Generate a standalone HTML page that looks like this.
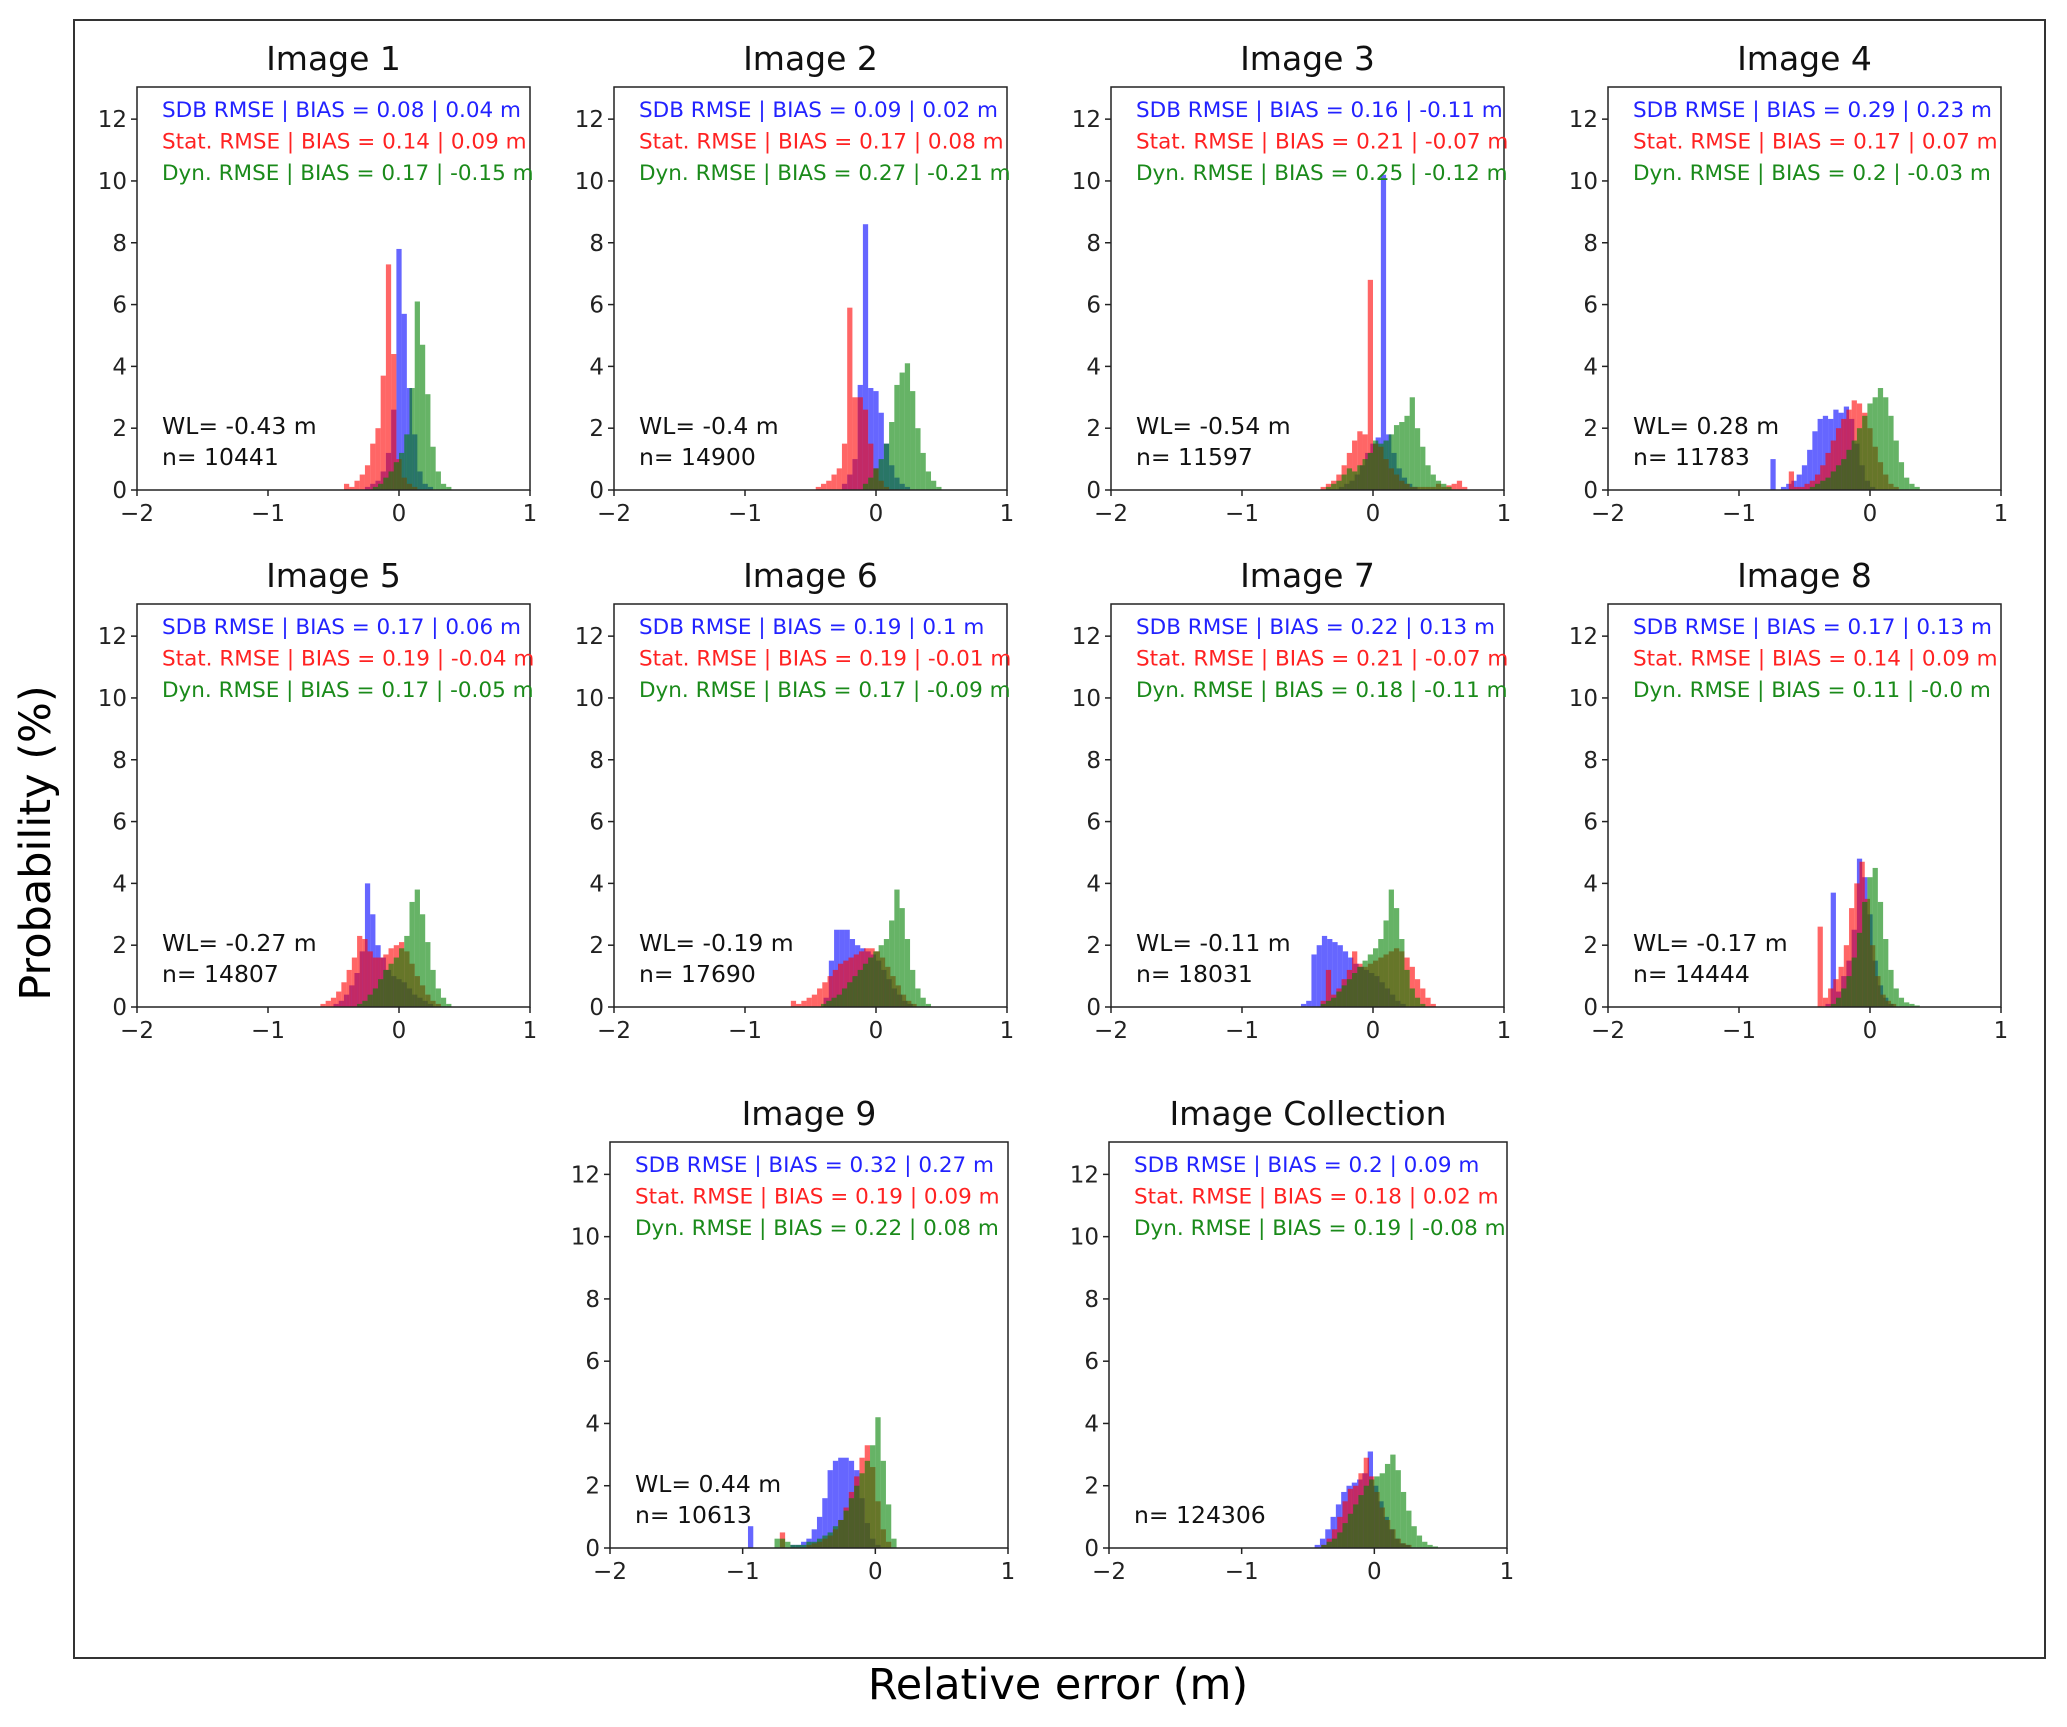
<!DOCTYPE html>
<html><head><meta charset="utf-8"><style>
html,body{margin:0;padding:0;background:#fff;}
svg{display:block;font-family:"DejaVu Sans","Liberation Sans",sans-serif;}
</style></head><body>
<svg id="chart" width="2067" height="1727" viewBox="0 0 2067 1727" xmlns="http://www.w3.org/2000/svg">
<rect x="74" y="20" width="1971" height="1638" fill="none" stroke="#333" stroke-width="2"/>
<text x="50" y="843" font-size="43" text-anchor="middle" transform="rotate(-90 50 843)">Probability (%)</text>
<text x="1058" y="1699" font-size="43" text-anchor="middle">Relative error (m)</text>
</svg>
<script>
// panel metadata
const titles = ["Image 1","Image 2","Image 3","Image 4","Image 5","Image 6","Image 7","Image 8","Image 9","Image Collection"];
const sdbText = ["0.08 | 0.04","0.09 | 0.02","0.16 | -0.11","0.29 | 0.23","0.17 | 0.06","0.19 | 0.1","0.22 | 0.13","0.17 | 0.13","0.32 | 0.27","0.2 | 0.09"];
const statText = ["0.14 | 0.09","0.17 | 0.08","0.21 | -0.07","0.17 | 0.07","0.19 | -0.04","0.19 | -0.01","0.21 | -0.07","0.14 | 0.09","0.19 | 0.09","0.18 | 0.02"];
const dynText = ["0.17 | -0.15","0.27 | -0.21","0.25 | -0.12","0.2 | -0.03","0.17 | -0.05","0.17 | -0.09","0.18 | -0.11","0.11 | -0.0","0.22 | 0.08","0.19 | -0.08"];
const wlText = ["-0.43","-0.4","-0.54","0.28","-0.27","-0.19","-0.11","-0.17","0.44",null];
const nText = ["10441","14900","11597","11783","14807","17690","18031","14444","10613","124306"];
const xTicks = [-2,-1,0,1];
const yTicks = [0,2,4,6,8,10,12];
const binWidth = 0.04;
// histogram start (left edge of first bin) per panel
const blueStart = [-0.26,-0.26,-0.26,-0.8,-0.5,-0.4,-0.55,-0.34,-0.96,-0.45];
const redStart  = [-0.42,-0.46,-0.4,-0.62,-0.6,-0.65,-0.4,-0.4,-0.72,-0.4];
const greenStart= [-0.2,-0.1,-0.36,-0.46,-0.32,-0.42,-0.4,-0.3,-0.76,-0.4];
const blueVals = [
[0.1,0.2,0.3,0.6,1.2,2.6,7.8,5.7,3.3,1.8,0.6,0.2,0.1],
[0.2,0.5,1.0,3.4,8.6,3.3,3.2,2.5,1.5,0.8,0.4,0.2,0.1],
[0.1,0.2,0.3,0.5,0.8,1.2,1.5,1.7,10.2,1.8,1.2,0.7,0.4,0.2,0.1],
[0,1.0,0,0.1,0.2,0.3,0.5,0.8,1.3,1.9,2.3,2.4,2.3,2.6,2.5,2.7,2.3,1.5,0.8,0.3,0.1],
[0.1,0.2,0.4,0.7,1.1,1.8,4.0,3.0,2.0,1.6,1.2,1.0,0.9,0.8,0.6,0.4,0.3,0.2,0.1],
[0.3,1.5,2.5,2.5,2.5,2.2,2.0,1.9,1.8,1.7,1.5,1.2,0.9,0.6,0.4,0.2,0.1],
[0.1,0.2,1.7,2.0,2.3,2.2,2.1,2.0,1.8,1.6,1.4,1.3,1.2,1.1,1.0,0.8,0.6,0.4,0.2,0.1],
[0.1,3.7,0.5,1.0,1.5,2.5,4.8,4.2,3.0,1.5,0.7,0.3,0.1],
[0.7,0,0,0,0,0,0,0,0.1,0.1,0.2,0.3,0.6,1.0,1.6,2.5,2.8,2.9,2.9,2.8,2.5,1.6,0.8,0.3,0.1],
[0.1,0.3,0.6,1.0,1.4,1.8,2.0,2.1,2.2,2.4,3.1,2.0,1.5,1.0,0.6,0.3,0.15,0.1]];
const redVals = [
[0.2,0.1,0.3,0.5,0.8,1.5,2.0,3.7,7.3,4.4,1.0,0.4,0.2,0.1],
[0.1,0.2,0.3,0.5,0.7,1.5,5.9,3.0,3.0,2.6,1.5,0.7,0.3,0.1],
[0.1,0.2,0.3,0.5,0.8,1.2,1.6,1.9,1.8,6.8,1.5,1.4,1.0,0.7,0.5,0.3,0.2,0.1,0.1,0.1,0.1,0.1,0.2,0.1,0.15,0.2,0.3,0.1],
[0.6,0.1,0.1,0.2,0.3,0.5,0.8,1.2,1.6,2.0,2.3,2.6,2.9,2.8,2.5,2.0,1.4,0.9,0.5,0.2,0.1],
[0.1,0.2,0.3,0.5,0.8,1.2,1.6,2.3,2.2,1.8,1.6,1.6,1.7,1.9,2.0,2.1,1.8,1.4,1.0,0.7,0.4,0.2,0.1],
[0.2,0.1,0.2,0.3,0.4,0.6,0.8,1.0,1.2,1.4,1.5,1.6,1.7,1.8,1.9,1.9,1.8,1.6,1.3,1.0,0.7,0.4,0.2,0.1],
[0.2,1.2,0.4,0.6,0.9,1.2,1.8,1.4,1.3,1.4,1.5,1.6,1.7,1.8,1.9,1.8,1.6,1.3,0.9,0.6,0.3,0.1],
[2.6,0.3,0.6,0.9,1.3,2.0,3.2,4.0,4.7,3.5,2.0,1.0,0.4,0.2,0.1],
[0.5,0,0,0,0,0.1,0.15,0.2,0.3,0.4,0.6,0.9,1.3,1.8,2.3,2.9,3.3,2.6,1.5,0.6,0.2],
[0.1,0.3,0.6,1.0,1.5,1.9,2.0,2.4,2.9,2.3,1.8,1.3,0.9,0.6,0.3,0.15,0.1]];
const greenVals = [
[0.1,0.2,0.4,0.6,0.9,1.2,1.8,3.3,6.1,4.7,3.1,1.4,0.6,0.2,0.1],
[0.2,0.4,0.7,1.0,1.5,2.2,3.4,3.8,4.1,3.2,2.0,1.2,0.6,0.3,0.1],
[0.1,0.2,0.3,0.5,0.7,0.6,0.8,1.0,1.2,1.6,1.5,1.6,1.8,2.1,2.2,2.4,3.0,2.0,1.4,0.8,0.5,0.3,0.2,0.1],
[0.1,0.2,0.3,0.4,0.6,0.8,1.0,1.3,1.6,2.0,2.4,2.8,3.0,3.3,3.0,2.4,1.6,0.9,0.4,0.2,0.1],
[0.1,0.2,0.4,0.6,0.9,1.2,1.4,1.6,1.9,2.3,3.4,3.8,3.0,2.1,1.2,0.6,0.3,0.1],
[0.1,0.2,0.3,0.4,0.6,0.8,1.0,1.2,1.4,1.6,1.8,2.0,2.2,2.8,3.8,3.2,2.2,1.2,0.6,0.3,0.1],
[0.1,0.2,0.3,0.5,0.7,0.9,1.1,1.3,1.5,1.7,1.9,2.2,2.8,3.8,3.2,2.2,1.2,0.6,0.3,0.1],
[0.1,0.3,0.6,1.0,1.6,2.4,3.4,4.2,4.5,3.4,2.2,1.2,0.6,0.3,0.15,0.1,0.05],
[0.3,0.3,0.2,0.1,0.1,0.1,0.2,0.2,0.3,0.4,0.5,0.7,0.9,1.2,1.6,2.0,2.4,2.8,3.3,4.2,2.8,1.4,0.3],
[0.1,0.2,0.3,0.5,0.8,1.1,1.4,1.7,2.0,2.2,2.3,2.4,2.7,3.0,2.5,1.8,1.2,0.7,0.4,0.2,0.1,0.05]];
// layout (not data)
const panelBoxes = [
[137,87,393,403],[614,87,393,403],[1111,87,393,403],[1608,87,393,403],
[137,604,393,403],[614,604,393,403],[1111,604,393,403],[1608,604,393,403],
[610,1142,398,406],[1109,1142,398,406]];
const NS="http://www.w3.org/2000/svg";
const svg=document.getElementById('chart');
function mk(tag,attrs,parent){const e=document.createElementNS(NS,tag);for(const k in attrs)e.setAttribute(k,attrs[k]);(parent||svg).appendChild(e);return e;}
const YMAX=13.04, XMIN=-2, XMAX=1;
panelBoxes.forEach((b,i)=>{
  const [L,T,W,H]=b;
  const g=mk('g',{});
  
  
  const xs=v=>L+(v-XMIN)/(XMAX-XMIN)*W;
  const ys=v=>T+H-v/YMAX*H;
  const series=[[blueStart[i],blueVals[i],'rgba(0,0,255,0.6)','blue'],[redStart[i],redVals[i],'rgba(255,0,0,0.6)','red'],[greenStart[i],greenVals[i],'rgba(0,128,0,0.6)','green']];
  series.forEach(s=>{
    s[1].forEach((v,k)=>{
      if(v<=0)return;
      const x0=xs(s[0]+k*binWidth), x1=xs(s[0]+(k+1)*binWidth);
      const r=mk('rect',{x:x0,y:ys(v),width:x1-x0,height:ys(0)-ys(v),fill:s[2]},g);
      
      
    });
  });
  const fr=mk('rect',{x:L,y:T,width:W,height:H,fill:'none',stroke:'#222','stroke-width':1.5},g);
  
  
  xTicks.forEach(t=>{
    mk('line',{x1:xs(t),x2:xs(t),y1:T+H,y2:T+H+6,stroke:'#222','stroke-width':1.5},g);
    const tx=mk('text',{x:xs(t),y:T+H+31,'font-size':23,'text-anchor':'middle',fill:'#222'},g);
    tx.textContent=t<0?'\u2212'+(-t):String(t);
    
    
  });
  yTicks.forEach(t=>{
    mk('line',{x1:L-6,x2:L,y1:ys(t),y2:ys(t),stroke:'#222','stroke-width':1.5},g);
    const ty=mk('text',{x:L-10,y:ys(t)+8,'font-size':23,'text-anchor':'end',fill:'#222'},g);
    ty.textContent=String(t);
    
    
  });
  const tt=mk('text',{x:L+W/2,y:T-17,'font-size':33,'text-anchor':'middle',fill:'#111'},g);
  tt.textContent=titles[i];
  
  
  const lines=[['SDB RMSE | BIAS = '+sdbText[i]+' m','#2222ff','sdb-stats'],['Stat. RMSE | BIAS = '+statText[i]+' m','#ff2222','stat-stats'],['Dyn. RMSE | BIAS = '+dynText[i]+' m','#1a8a1a','dyn-stats']];
  lines.forEach((l,k)=>{
    const e=mk('text',{x:L+25,y:T+30+k*31.5,'font-size':21.5,fill:l[1]},g);
    e.textContent=l[0];
    
    
  });
  if(wlText[i]!==null){
    const w=mk('text',{x:L+25,y:T+H-56,'font-size':23.5,fill:'#111'},g);
    w.textContent='WL= '+wlText[i]+' m';
    
    
  }
  const n=mk('text',{x:L+25,y:T+H-25,'font-size':23.5,fill:'#111'},g);
  n.textContent='n= '+nText[i];
  
  
});
</script>
</body></html>
